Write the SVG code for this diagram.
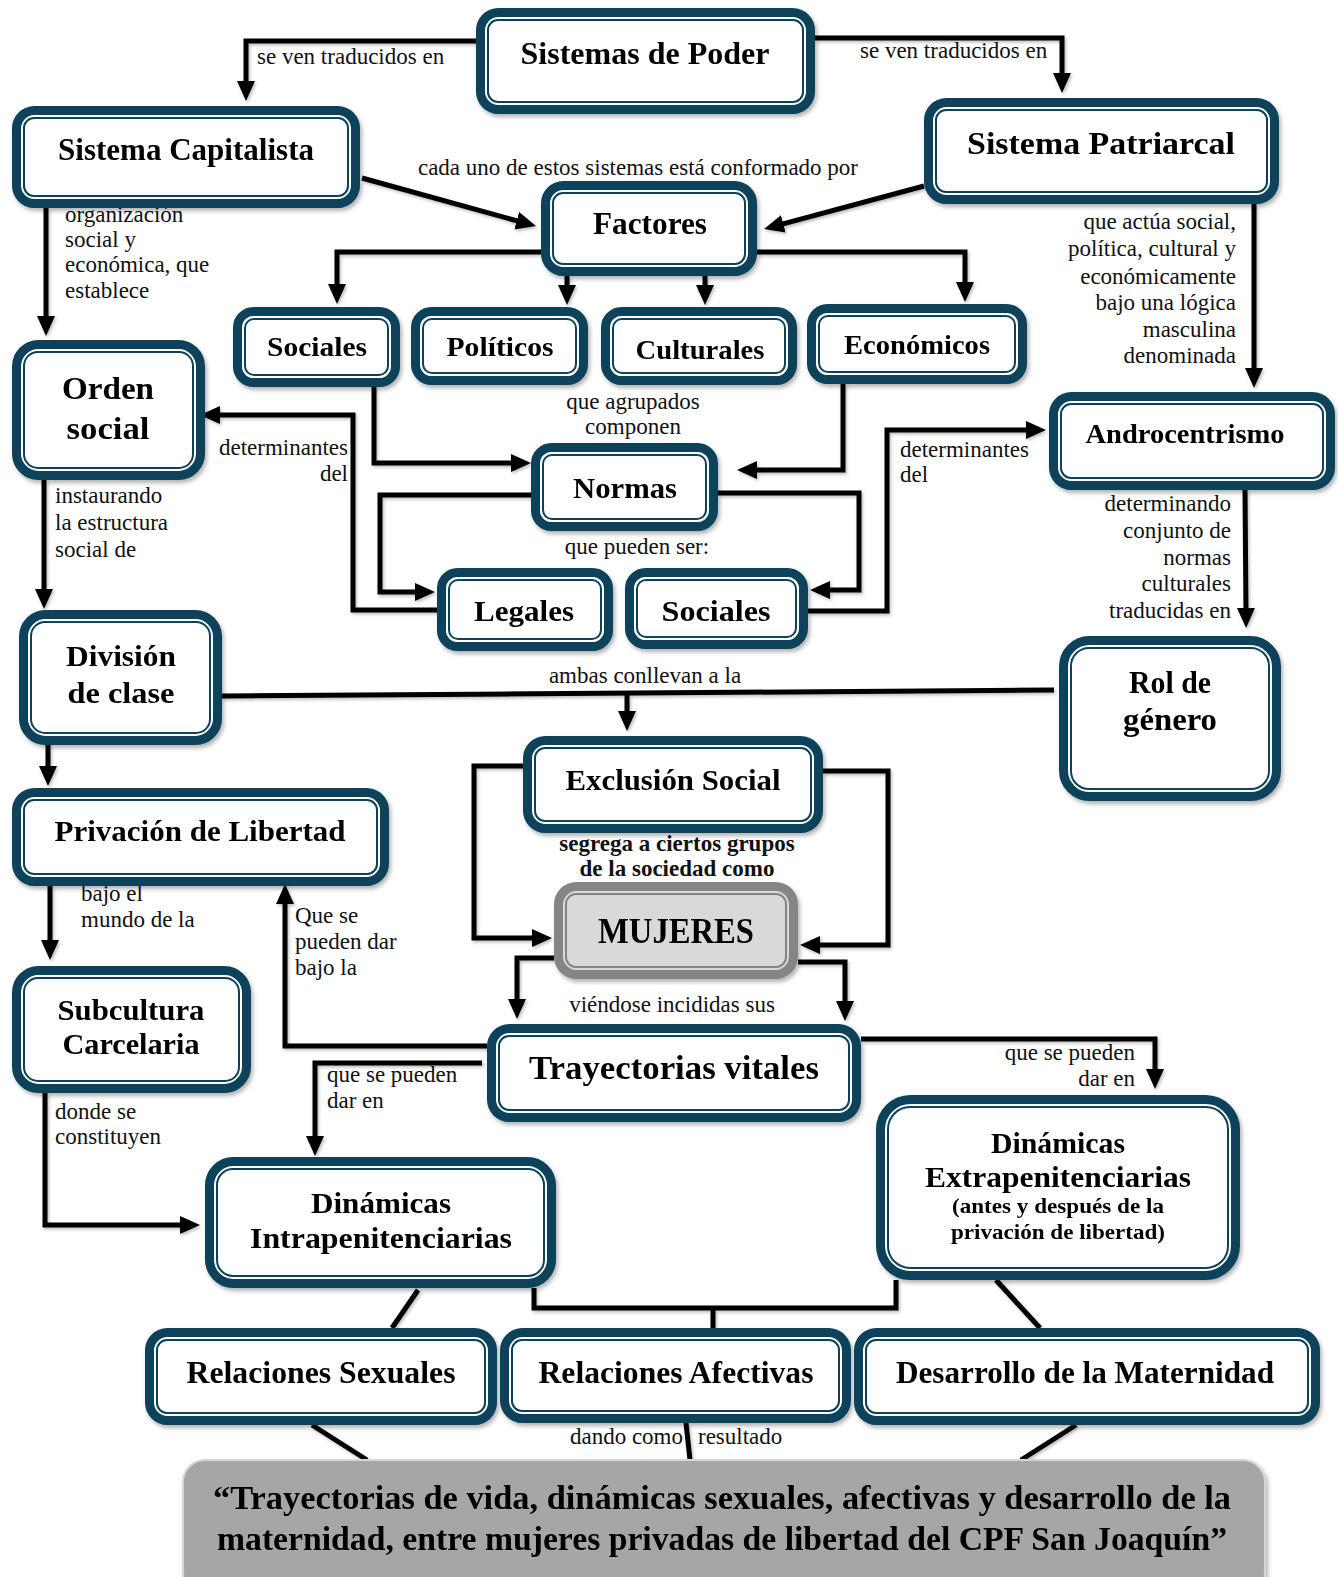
<svg xmlns="http://www.w3.org/2000/svg" width="1338" height="1577" viewBox="0 0 1338 1577">
<defs>
<filter id="sh" x="-10%" y="-10%" width="120%" height="130%"><feDropShadow dx="2" dy="3" stdDeviation="2" flood-color="#000" flood-opacity="0.3"/></filter>
<filter id="shl" x="-5%" y="-5%" width="110%" height="110%"><feDropShadow dx="1.5" dy="2" stdDeviation="1.5" flood-color="#000" flood-opacity="0.25"/></filter>
<marker id="ar" markerUnits="userSpaceOnUse" markerWidth="22" markerHeight="20" refX="6" refY="9" orient="auto"><path d="M0,0 L20,9 L0,18 z" fill="#000"/></marker>
<style>
.o{fill:#fff;stroke:#07435A;stroke-width:9}
.i{fill:none;stroke:#07435A;stroke-width:2}
.g .o{fill:#d9d9d9;stroke:#858585}
.g .i{stroke:#858585}
.t{font-family:"Liberation Serif","Times New Roman",serif;font-weight:bold;fill:#000;text-anchor:middle}
.l{font-family:"Liberation Serif","Times New Roman",serif;font-size:23px;fill:#111}
.lb{font-family:"Liberation Serif","Times New Roman",serif;font-size:23px;font-weight:bold;fill:#111;text-anchor:middle}
.c{fill:none;stroke:#000;stroke-width:5;stroke-linejoin:miter}
.a{marker-end:url(#ar)}
</style>
</defs>
<rect width="1338" height="1577" fill="#fff"/>

<g id="connectors" filter="url(#shl)">
<path class="c a" d="M476,41 H246 V87"/>
<path class="c a" d="M815,38 H1062 V79"/>
<path class="c a" d="M362,178 L522.5,222.3"/>
<path class="c a" d="M924,186 L777.5,225.4"/>
<path class="c a" d="M541,252 H337 V290"/>
<path class="c a" d="M567,276 V291"/>
<path class="c a" d="M705,276 V291"/>
<path class="c a" d="M757,252 H965 V288"/>
<path class="c a" d="M46,208 V322"/>
<path class="c a" d="M1254,204 V374"/>
<path class="c a" d="M374,387 V463 H517"/>
<path class="c a" d="M843,384 V470 H751"/>
<path class="c a" d="M531,495 H380 V592 H421"/>
<path class="c a" d="M718,493 H859 V590 H824"/>
<path class="c a" d="M437,610 H353 V415 H214"/>
<path class="c a" d="M808,611 H887 V430 H1032"/>
<path class="c a" d="M44,480 V595"/>
<path class="c a" d="M1245,490 L1246,614"/>
<path class="c" d="M222,696 L1054,690"/>
<path class="c a" d="M627,692 V717"/>
<path class="c a" d="M48,745 V772"/>
<path class="c a" d="M523,766 H474 V938 H538"/>
<path class="c a" d="M823,771 H888 V945 H814"/>
<path class="c a" d="M554,958 H517 V1005"/>
<path class="c a" d="M798,962 H845 V1007"/>
<path class="c a" d="M50,886 V946"/>
<path class="c a" d="M487,1046 H285 V898"/>
<path class="c a" d="M482,1063 H315 V1142"/>
<path class="c a" d="M861,1039 H1155 V1075"/>
<path class="c a" d="M45,1093 V1225 H186"/>
<path class="c" d="M534,1288 V1308 H896 V1280"/>
<path class="c" d="M713,1308 V1330"/>
<path class="c" d="M418,1290 L392,1328"/>
<path class="c" d="M996,1280 L1040,1328"/>
<path class="c" d="M312,1425 L367,1460"/>
<path class="c" d="M686,1423 L690,1460"/>
<path class="c" d="M1076,1425 L1021,1460"/>
</g>

<g id="labels">
<text class="l" x="257" y="64">se ven traducidos en</text>
<text class="l" x="860" y="58">se ven traducidos en</text>
<text class="l" x="638" y="175" text-anchor="middle">cada uno de estos sistemas está conformado por</text>
<text class="l" x="65"><tspan x="65" y="222">organización</tspan><tspan x="65" y="247">social y</tspan><tspan x="65" y="272">económica, que</tspan><tspan x="65" y="298">establece</tspan></text>
<text class="l" text-anchor="end"><tspan x="1236" y="229">que actúa social,</tspan><tspan x="1236" y="256">política, cultural y</tspan><tspan x="1236" y="284">económicamente</tspan><tspan x="1236" y="310">bajo una lógica</tspan><tspan x="1236" y="337">masculina</tspan><tspan x="1236" y="363">denominada</tspan></text>
<text class="l" text-anchor="middle"><tspan x="633" y="409">que agrupados</tspan><tspan x="633" y="434">componen</tspan></text>
<text class="l" x="637" y="554" text-anchor="middle">que pueden ser:</text>
<text class="l" text-anchor="end"><tspan x="348" y="455">determinantes</tspan><tspan x="348" y="481">del</tspan></text>
<text class="l"><tspan x="900" y="457">determinantes</tspan><tspan x="900" y="482">del</tspan></text>
<text class="l"><tspan x="55" y="503">instaurando</tspan><tspan x="55" y="530">la estructura</tspan><tspan x="55" y="557">social de</tspan></text>
<text class="l" text-anchor="end"><tspan x="1231" y="511">determinando</tspan><tspan x="1231" y="538">conjunto de</tspan><tspan x="1231" y="565">normas</tspan><tspan x="1231" y="591">culturales</tspan><tspan x="1231" y="618">traducidas en</tspan></text>
<text class="l" x="645" y="683" text-anchor="middle">ambas conllevan a la</text>
<text class="lb"><tspan x="677" y="851">segrega a ciertos grupos</tspan><tspan x="677" y="876">de la sociedad como</tspan></text>
<text class="l" x="672" y="1012" text-anchor="middle">viéndose incididas sus</text>
<text class="l"><tspan x="81" y="901">bajo el</tspan><tspan x="81" y="927">mundo de la</tspan></text>
<text class="l"><tspan x="295" y="923">Que se</tspan><tspan x="295" y="949">pueden dar</tspan><tspan x="295" y="975">bajo la</tspan></text>
<text class="l"><tspan x="327" y="1082">que se pueden</tspan><tspan x="327" y="1108">dar en</tspan></text>
<text class="l" text-anchor="end"><tspan x="1135" y="1060">que se pueden</tspan><tspan x="1135" y="1086">dar en</tspan></text>
<text class="l"><tspan x="55" y="1119">donde se</tspan><tspan x="55" y="1144">constituyen</tspan></text>
<text class="l" x="683" y="1444" text-anchor="end">dando como</text>
<text class="l" x="698" y="1444">resultado</text>
</g>

<g id="n-poder" filter="url(#sh)"><rect class="o" x="480.5" y="12.5" width="330" height="97" rx="18"/><rect class="i" x="488" y="20" width="315" height="82" rx="10"/><text class="t" x="645" y="64" font-size="32" textLength="249" lengthAdjust="spacingAndGlyphs">Sistemas de Poder</text></g>
<g id="n-capitalista" filter="url(#sh)"><rect class="o" x="16.5" y="110.5" width="339" height="93" rx="18"/><rect class="i" x="24" y="118" width="324" height="78" rx="10"/><text class="t" x="186" y="160" font-size="31" textLength="256" lengthAdjust="spacingAndGlyphs">Sistema Capitalista</text></g>
<g id="n-patriarcal" filter="url(#sh)"><rect class="o" x="928.5" y="102.5" width="346" height="97" rx="18"/><rect class="i" x="936" y="110" width="331" height="82" rx="10"/><text class="t" x="1101" y="154" font-size="32" textLength="268" lengthAdjust="spacingAndGlyphs">Sistema Patriarcal</text></g>
<g id="n-factores" filter="url(#sh)"><rect class="o" x="545.5" y="185.5" width="207" height="86" rx="18"/><rect class="i" x="553" y="193" width="192" height="71" rx="10"/><text class="t" x="650" y="234" font-size="31" textLength="114" lengthAdjust="spacingAndGlyphs">Factores</text></g>
<g id="n-sociales" filter="url(#sh)"><rect class="o" x="237.5" y="311.5" width="158" height="71" rx="16"/><rect class="i" x="245" y="319" width="143" height="56" rx="9"/><text class="t" x="317" y="356" font-size="27" textLength="100" lengthAdjust="spacingAndGlyphs">Sociales</text></g>
<g id="n-politicos" filter="url(#sh)"><rect class="o" x="415.5" y="311.5" width="168" height="69" rx="16"/><rect class="i" x="423" y="319" width="153" height="54" rx="9"/><text class="t" x="500" y="356" font-size="27" textLength="107" lengthAdjust="spacingAndGlyphs">Políticos</text></g>
<g id="n-culturales" filter="url(#sh)"><rect class="o" x="605.5" y="311.5" width="187" height="69" rx="16"/><rect class="i" x="613" y="319" width="172" height="54" rx="9"/><text class="t" x="700" y="359" font-size="27" textLength="129" lengthAdjust="spacingAndGlyphs">Culturales</text></g>
<g id="n-economicos" filter="url(#sh)"><rect class="o" x="811.5" y="308.5" width="211" height="71" rx="16"/><rect class="i" x="819" y="316" width="196" height="56" rx="9"/><text class="t" x="917" y="354" font-size="27" textLength="146" lengthAdjust="spacingAndGlyphs">Económicos</text></g>
<g id="n-orden" filter="url(#sh)"><rect class="o" x="16.5" y="344.5" width="184" height="131" rx="22"/><rect class="i" x="24" y="352" width="169" height="116" rx="14"/><text class="t" x="108" y="399" font-size="32" textLength="92" lengthAdjust="spacingAndGlyphs">Orden</text><text class="t" x="108" y="439" font-size="32" textLength="83" lengthAdjust="spacingAndGlyphs">social</text></g>
<g id="n-androcentrismo" filter="url(#sh)"><rect class="o" x="1053.5" y="396.5" width="277" height="89" rx="18"/><rect class="i" x="1061" y="404" width="262" height="74" rx="10"/><text class="t" x="1185" y="443" font-size="27" textLength="199" lengthAdjust="spacingAndGlyphs">Androcentrismo</text></g>
<g id="n-normas" filter="url(#sh)"><rect class="o" x="535.5" y="447.5" width="178" height="79" rx="16"/><rect class="i" x="543" y="455" width="163" height="64" rx="9"/><text class="t" x="625" y="498" font-size="29" textLength="104" lengthAdjust="spacingAndGlyphs">Normas</text></g>
<g id="n-legales" filter="url(#sh)"><rect class="o" x="441.5" y="572.5" width="167" height="74" rx="16"/><rect class="i" x="449" y="580" width="152" height="59" rx="9"/><text class="t" x="524" y="621" font-size="29" textLength="100" lengthAdjust="spacingAndGlyphs">Legales</text></g>
<g id="n-sociales2" filter="url(#sh)"><rect class="o" x="629.5" y="572.5" width="174" height="72" rx="16"/><rect class="i" x="637" y="580" width="159" height="57" rx="9"/><text class="t" x="716" y="621" font-size="29" textLength="109" lengthAdjust="spacingAndGlyphs">Sociales</text></g>
<g id="n-division" filter="url(#sh)"><rect class="o" x="23.5" y="614.5" width="194" height="126" rx="22"/><rect class="i" x="31" y="622" width="179" height="111" rx="14"/><text class="t" x="121" y="666" font-size="29" textLength="110" lengthAdjust="spacingAndGlyphs">División</text><text class="t" x="121" y="703" font-size="29" textLength="107" lengthAdjust="spacingAndGlyphs">de clase</text></g>
<g id="n-rol" filter="url(#sh)"><rect class="o" x="1063.5" y="640.5" width="213" height="156" rx="26"/><rect class="i" x="1071" y="648" width="198" height="141" rx="18"/><text class="t" x="1170" y="693" font-size="31" textLength="82" lengthAdjust="spacingAndGlyphs">Rol de</text><text class="t" x="1170" y="730" font-size="31" textLength="94" lengthAdjust="spacingAndGlyphs">género</text></g>
<g id="n-exclusion" filter="url(#sh)"><rect class="o" x="527.5" y="740.5" width="291" height="88" rx="18"/><rect class="i" x="535" y="748" width="276" height="73" rx="10"/><text class="t" x="673" y="790" font-size="29" textLength="215" lengthAdjust="spacingAndGlyphs">Exclusión Social</text></g>
<g id="n-mujeres" class="g" filter="url(#sh)"><rect class="o" x="558.5" y="886.5" width="235" height="88" rx="18"/><rect class="i" x="566" y="894" width="220" height="73" rx="10"/><text class="t" x="676" y="943" font-size="36" textLength="156" lengthAdjust="spacingAndGlyphs">MUJERES</text></g>
<g id="n-privacion" filter="url(#sh)"><rect class="o" x="16.5" y="792.5" width="368" height="89" rx="18"/><rect class="i" x="24" y="800" width="353" height="74" rx="10"/><text class="t" x="200" y="841" font-size="29" textLength="291" lengthAdjust="spacingAndGlyphs">Privación de Libertad</text></g>
<g id="n-subcultura" filter="url(#sh)"><rect class="o" x="16.5" y="970.5" width="230" height="118" rx="22"/><rect class="i" x="24" y="978" width="215" height="103" rx="14"/><text class="t" x="131" y="1020" font-size="29" textLength="147" lengthAdjust="spacingAndGlyphs">Subcultura</text><text class="t" x="131" y="1054" font-size="29" textLength="137" lengthAdjust="spacingAndGlyphs">Carcelaria</text></g>
<g id="n-trayectorias" filter="url(#sh)"><rect class="o" x="491.5" y="1028.5" width="365" height="89" rx="18"/><rect class="i" x="499" y="1036" width="350" height="74" rx="10"/><text class="t" x="674" y="1079" font-size="34" textLength="290" lengthAdjust="spacingAndGlyphs">Trayectorias vitales</text></g>
<g id="n-extra" filter="url(#sh)"><rect class="o" x="880.5" y="1099.5" width="355" height="176" rx="30"/><rect class="i" x="888" y="1107" width="340" height="161" rx="22"/><text class="t" x="1058" y="1153" font-size="30" textLength="134" lengthAdjust="spacingAndGlyphs">Dinámicas</text><text class="t" x="1058" y="1187" font-size="30" textLength="266" lengthAdjust="spacingAndGlyphs">Extrapenitenciarias</text><text class="t" x="1058" y="1213" font-size="21" textLength="212" lengthAdjust="spacingAndGlyphs">(antes y después de la</text><text class="t" x="1058" y="1239" font-size="21" textLength="214" lengthAdjust="spacingAndGlyphs">privación de libertad)</text></g>
<g id="n-intra" filter="url(#sh)"><rect class="o" x="209.5" y="1161.5" width="342" height="122" rx="24"/><rect class="i" x="217" y="1169" width="327" height="107" rx="16"/><text class="t" x="381" y="1213" font-size="30" textLength="140" lengthAdjust="spacingAndGlyphs">Dinámicas</text><text class="t" x="381" y="1248" font-size="30" textLength="262" lengthAdjust="spacingAndGlyphs">Intrapenitenciarias</text></g>
<g id="n-sexuales" filter="url(#sh)"><rect class="o" x="149.5" y="1332.5" width="343" height="88" rx="18"/><rect class="i" x="157" y="1340" width="328" height="73" rx="10"/><text class="t" x="321" y="1383" font-size="31" textLength="269" lengthAdjust="spacingAndGlyphs">Relaciones Sexuales</text></g>
<g id="n-afectivas" filter="url(#sh)"><rect class="o" x="504.5" y="1332.5" width="342" height="86" rx="18"/><rect class="i" x="512" y="1340" width="327" height="71" rx="10"/><text class="t" x="676" y="1383" font-size="31" textLength="275" lengthAdjust="spacingAndGlyphs">Relaciones Afectivas</text></g>
<g id="n-maternidad" filter="url(#sh)"><rect class="o" x="858.5" y="1332.5" width="457" height="88" rx="18"/><rect class="i" x="866" y="1340" width="442" height="73" rx="10"/><text class="t" x="1085" y="1383" font-size="31" textLength="378" lengthAdjust="spacingAndGlyphs">Desarrollo de la Maternidad</text></g>
<g id="n-resultado" filter="url(#sh)"><rect x="183" y="1460" width="1082" height="135" rx="22" fill="#a6a6a6" stroke="#d6d6d6" stroke-width="2"/><text class="t" x="722" y="1509" font-size="34" textLength="1018" lengthAdjust="spacingAndGlyphs" fill="#1a1a1a">“Trayectorias de vida, dinámicas sexuales, afectivas y desarrollo de la</text><text class="t" x="722" y="1550" font-size="34" textLength="1010" lengthAdjust="spacingAndGlyphs" fill="#1a1a1a">maternidad, entre mujeres privadas de libertad del CPF San Joaquín”</text></g>
</svg>
